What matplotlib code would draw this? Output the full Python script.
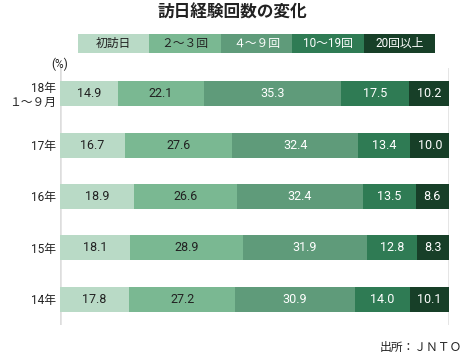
import numpy as np
import matplotlib
matplotlib.use('Agg')
from matplotlib import pyplot as plt

plt.rcParams['font.family'] = ['Roboto', 'Noto Sans CJK JP', 'DejaVu Sans']

# data
rows = ['18年\n１～９月', '17年', '16年', '15年', '14年']
series = ['初訪日', '２～３回', '４～９回', '10～19回', '20回以上']
first = [14.9, 16.7, 18.9, 18.1, 17.8]
two_three = [22.1, 27.6, 26.6, 28.9, 27.2]
four_nine = [35.3, 32.4, 32.4, 31.9, 30.9]
ten_19 = [17.5, 13.4, 13.5, 12.8, 14.0]
over_20 = [10.2, 10.0, 8.6, 8.3, 10.1]

colors = ['#b9dac6', '#7ab892', '#5f9b7a', '#2f7b54', '#173f28']
text_colors = ['#222222', '#222222', 'white', 'white', 'white']

W, H = 465, 357
fig = plt.figure(figsize=(W / 100, H / 100), dpi=100)

def px(x0, y0, x1, y1):
    return [x0 / W, 1 - y1 / H, (x1 - x0) / W, (y1 - y0) / H]

fig.text(232 / W, 1 - 13 / H, '訪日経験回数の変化', ha='center', va='center',
         fontsize=12, fontweight='bold', color='#222222')

# legend strip
lax = fig.add_axes(px(78, 34, 435, 53))
lax.bar(range(5), [1] * 5, width=1.0, color=colors)
for i, s in enumerate(series):
    lax.text(i, 0.5, s, ha='center', va='center', fontsize=8.5, color=text_colors[i])
lax.set_xlim(-0.5, 4.5)
lax.set_ylim(0, 1)
lax.axis('off')

ax = fig.add_axes(px(60, 68, 449, 325))
data = [first, two_three, four_nine, ten_19, over_20]
y = np.arange(len(rows))
left = np.zeros(len(rows))
for k, vals in enumerate(data):
    vals = np.array(vals)
    ax.barh(y, vals, left=left, height=0.49, color=colors[k])
    for i in range(len(rows)):
        ax.text(left[i] + vals[i] / 2, y[i], f'{vals[i]:.1f}', ha='center', va='center',
                fontsize=9, color=text_colors[k])
    left = left + vals

ax.axvline(0, color='#dddddd', lw=1.8, zorder=0)
ax.axvline(100, color='#dddddd', lw=1.8, zorder=0)
ax.set_xlim(0, 100)
ax.set_ylim(4.5, -0.5)
ax.set_yticks(y)
ax.set_yticklabels(rows, fontsize=8.5, color='#222222', linespacing=1.05)
ax.tick_params(axis='y', length=0, pad=3)
ax.set_xticks([])
for sp in ax.spines.values():
    sp.set_visible(False)

fig.text(60 / W, 1 - 64 / H, '(%)', ha='center', va='center', fontsize=8.5, color='#222222')
fig.text(462 / W, 1 - 347 / H, '出所：ＪＮＴＯ', ha='right', va='center', fontsize=8.5, color='#222222')

fig.savefig('out.png', dpi=100)
